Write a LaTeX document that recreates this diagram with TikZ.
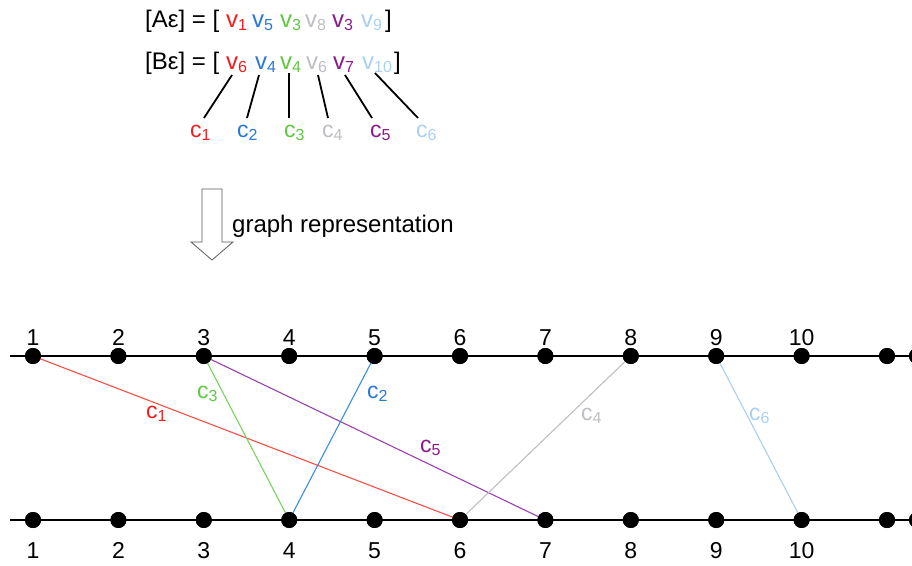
\documentclass[tikz,border=0pt]{standalone}
\usepackage{fontspec}
\setmainfont{Liberation Sans}
\definecolor{cr}{RGB}{240,30,30}
\definecolor{cb}{RGB}{40,120,215}
\definecolor{cg}{RGB}{95,200,65}
\definecolor{cy}{RGB}{190,190,196}
\definecolor{cp}{RGB}{140,25,140}
\definecolor{cl}{RGB}{170,208,242}
\definecolor{lr}{RGB}{245,80,70}
\definecolor{lb}{RGB}{60,140,225}
\definecolor{lg}{RGB}{120,210,95}
\definecolor{lp}{RGB}{155,65,175}
\newcommand\sbx[1]{\raisebox{-0.3ex}{\fontsize{16}{16}\selectfont #1}}
\begin{document}
\begin{tikzpicture}[x=1pt,y=-1pt,
  dot/.style={circle,fill=black,inner sep=0pt,minimum size=16pt},
  num/.style={font=\fontsize{23}{23}\selectfont,anchor=base,inner sep=0pt},
  elab/.style={font=\fontsize{23}{23}\selectfont,anchor=base west,inner sep=0pt},
  vtx/.style={font=\fontsize{24}{24}\selectfont,anchor=base west,inner sep=0pt},
  edgeline/.style={line width=1.1pt},
  axisline/.style={line width=1.8pt},
  tick/.style={line width=1.8pt,black}]
\useasboundingbox (0,0) rectangle (912,565);
\clip (0,0) rectangle (912,565);

% header rows
\node[vtx] (ha) at (145,27) {[Aε] = [};
\node[vtx,text=cr] (a1) at (226,27) {v\sbx{1}};
\node[vtx,text=cb] (a2) at (252,27) {v\sbx{5}};
\node[vtx,text=cg] (a3) at (280,27) {v\sbx{3}};
\node[vtx,text=cy] (a4) at (305,27) {v\sbx{8}};
\node[vtx,text=cp] (a5) at (332,27) {v\sbx{3}};
\node[vtx,text=cl] (a6) at (361,27) {v\sbx{9}};
\node[vtx] (ae) at (385,27) {]};

\node[vtx] (hb) at (145,69) {[Bε] = [};
\node[vtx,text=cr] (b1v) at (226,69) {v\sbx{6}};
\node[vtx,text=cb] (b2v) at (255,69) {v\sbx{4}};
\node[vtx,text=cg] (b3v) at (280,69) {v\sbx{4}};
\node[vtx,text=cy] (b4v) at (306,69) {v\sbx{6}};
\node[vtx,text=cp] (b5v) at (333,69) {v\sbx{7}};
\node[vtx,text=cl] (b6v) at (362,69) {v\sbx{10}};
\node[vtx] (be) at (394,69) {]};

% c labels
\node[elab,text=cr] (c1) at (190,137) {c\sbx{1}};
\node[elab,text=cb] (c2) at (237,137) {c\sbx{2}};
\node[elab,text=cg] (c3) at (284,137) {c\sbx{3}};
\node[elab,text=cy] (c4) at (322,137) {c\sbx{4}};
\node[elab,text=cp] (c5) at (370,137) {c\sbx{5}};
\node[elab,text=cl] (c6) at (416,137) {c\sbx{6}};

\coordinate (u1) at (232,75);  \coordinate (d1) at (204,118);
\coordinate (u2) at (259,75);  \coordinate (d2) at (247,118);
\coordinate (u3) at (289,73);  \coordinate (d3) at (289,118);
\coordinate (u4) at (318,75);  \coordinate (d4) at (328,118);
\coordinate (u5) at (345,75);  \coordinate (d5) at (372,118);
\coordinate (u6) at (375,73);  \coordinate (d6) at (418,118);
\foreach \i in {1,...,6} { \draw[tick] (u\i) -- (d\i); }

% arrow
\draw[line width=0.8pt,draw=black!65,fill=white]
  (202,189) -- (222,189) -- (222,242) -- (233,242) -- (212,260) -- (191,242) -- (202,242) -- cycle;
\node[font=\fontsize{24}{24}\selectfont,anchor=base west,inner sep=0pt] (gr) at (232,232) {graph representation};

% axes
\coordinate (tl) at (10,356);
\coordinate (bl) at (10,520);
\foreach \i in {1,...,11} {
  \pgfmathsetmacro{\xx}{33+85.4*(\i-1)}
  \node[dot] (t\i) at (\xx,356) {};
  \node[dot] (b\i) at (\xx,520) {};
}
\node[dot] (t12) at (917,356) {};
\node[dot] (b12) at (917,520) {};
\draw[axisline] (tl) -- (t12.center);
\draw[axisline] (bl) -- (b12.center);
\foreach \i in {1,...,10} {
  \pgfmathsetmacro{\xx}{33+85.4*(\i-1)}
  \node[num] (lt\i) at (\xx,345) {\i};
  \node[num] (lb\i) at (\xx,558) {\i};
}

% edges
\draw[edgeline,lr] (t1.center) -- (b6.center);
\draw[edgeline,lg] (t3.center) -- (b4.center);
\draw[edgeline,lp] (t3.center) -- (b7.center);
\draw[edgeline,lb] (t5.center) -- (b4.center);
\draw[edgeline,cy] (t8.center) -- (b6.center);
\draw[edgeline,cl] (t9.center) -- (b10.center);
\foreach \i in {1,...,12} {
  \node[dot] at (t\i) {};
  \node[dot] at (b\i) {};
}

% edge labels
\node[elab,text=cr] (e1) at (146,418) {c\sbx{1}};
\node[elab,text=cg] (e3) at (197,398) {c\sbx{3}};
\node[elab,text=cb] (e2) at (367,398) {c\sbx{2}};
\node[elab,text=cp] (e5) at (420,452) {c\sbx{5}};
\node[elab,text=cy] (e4) at (581,420) {c\sbx{4}};
\node[elab,text=cl] (e6) at (749,420) {c\sbx{6}};
\end{tikzpicture}
\end{document}
